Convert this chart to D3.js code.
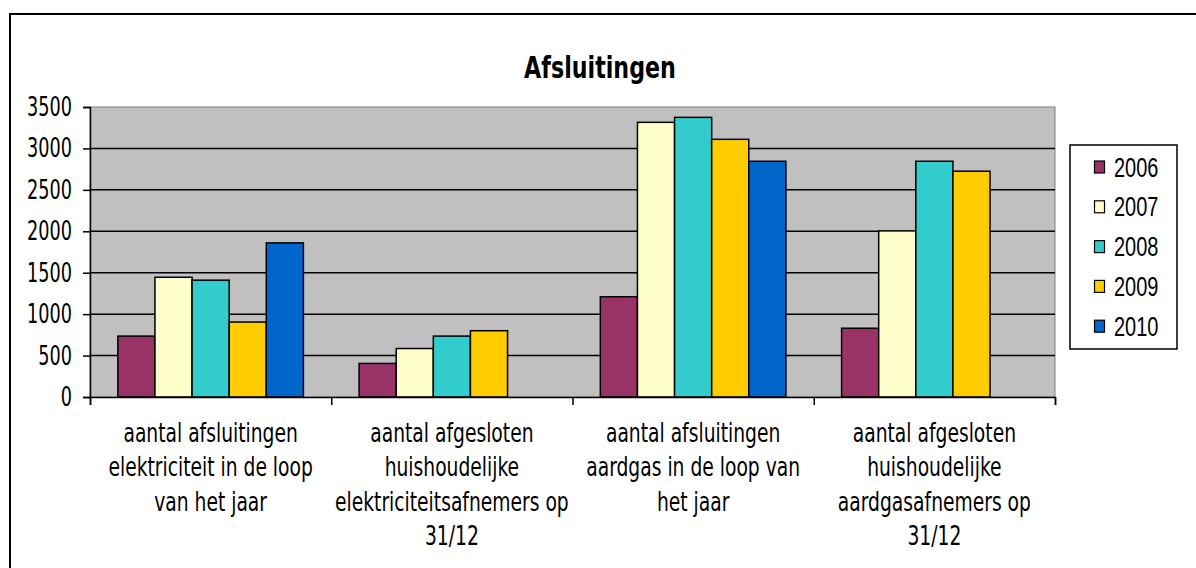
<!DOCTYPE html>
<html>
<head>
<meta charset="utf-8">
<script src="https://cdn.jsdelivr.net/npm/d3@7"></script>
<style>
  body { margin: 0; background: #fff; overflow: hidden; }
  svg { display: block; }
</style>
</head>
<body>
<svg id="chart" width="1196" height="568"></svg>
<script>
// --- data ---
const categories = [
    ["aantal afsluitingen", "elektriciteit in de loop", "van het jaar"],
    ["aantal afgesloten", "huishoudelijke", "elektriciteitsafnemers op", "31/12"],
    ["aantal afsluitingen", "aardgas in de loop van", "het jaar"],
    ["aantal afgesloten", "huishoudelijke", "aardgasafnemers op", "31/12"]
];
const years = ["2006", "2007", "2008", "2009", "2010"];
const s2006 = [735, 405, 1210, 830];
const s2007 = [1445, 585, 3315, 2005];
const s2008 = [1410, 735, 3375, 2845];
const s2009 = [905, 800, 3110, 2725];
const s2010 = [1860, null, 2845, null];
const yTicks = [0, 500, 1000, 1500, 2000, 2500, 3000, 3500];
const colors = ["#993366", "#FFFFCC", "#33CCCC", "#FFCC00", "#0066CC"];

const series = [s2006, s2007, s2008, s2009, s2010];
const SX = 0.68; // the picture is squeezed sideways
const font = "'DejaVu Sans', Verdana, sans-serif";

const svg = d3.select("#chart");
const plot = { left: 90, top: 107, right: 1055, bottom: 397 };

// outer frame (right and bottom edges fall outside the picture)
svg.append("rect").attr("x", 10).attr("y", 14).attr("width", 1400).attr("height", 700)
    .attr("fill", "#fff").attr("stroke", "#000").attr("stroke-width", 2);

const x0 = d3.scaleBand().domain(d3.range(categories.length)).range([plot.left, plot.right]);
const x1 = d3.scaleBand().domain(years).range([0, x0.bandwidth()]).paddingInner(0).paddingOuter(0.75);
const y = d3.scaleLinear().domain([0, 3500]).range([plot.bottom, plot.top]);

// plot area
svg.append("rect").attr("x", plot.left).attr("y", plot.top)
    .attr("width", plot.right - plot.left).attr("height", plot.bottom - plot.top)
    .attr("fill", "#c0c0c0").attr("stroke", "#808080").attr("stroke-width", 1);

// gridlines
svg.append("g").selectAll("line").data(yTicks.filter(d => d > 0 && d < 3500)).enter().append("line")
    .attr("x1", plot.left).attr("x2", plot.right)
    .attr("y1", d => y(d)).attr("y2", d => y(d))
    .attr("stroke", "#000").attr("stroke-width", 1.5);

// bars
const groups = svg.append("g").selectAll("g").data(categories).enter().append("g")
    .attr("transform", (d, i) => `translate(${x0(i)},0)`);
groups.selectAll("rect")
    .data((d, i) => years.map((yr, j) => ({ yr, j, v: series[j][i] })).filter(d => d.v != null))
    .enter().append("rect")
    .attr("x", d => x1(d.yr)).attr("width", x1.bandwidth())
    .attr("y", d => y(d.v)).attr("height", d => y(0) - y(d.v))
    .attr("fill", d => colors[d.j]).attr("stroke", "#000").attr("stroke-width", 1.5);

// y axis
const yAxis = svg.append("g").attr("transform", `translate(${plot.left},0)`)
    .call(d3.axisLeft(y).tickValues(yTicks).tickSize(7).tickFormat(""));
yAxis.select(".domain").attr("stroke", "#000").attr("stroke-width", 1.5);
yAxis.selectAll(".tick line").attr("stroke", "#000").attr("stroke-width", 1.5);
svg.append("g").selectAll("text").data(yTicks).enter().append("text")
    .attr("transform", d => `translate(72,${y(d) + 9}) scale(${SX},1)`)
    .attr("text-anchor", "end")
    .style("font-family", font).style("font-size", "26px")
    .text(d => d);

// x axis
const xAxis = svg.append("g").attr("transform", `translate(0,${plot.bottom})`)
    .call(d3.axisBottom(d3.scaleLinear().domain([0, 4]).range([plot.left, plot.right]))
        .tickValues([0, 1, 2, 3, 4]).tickSize(8).tickFormat(""));
xAxis.select(".domain").attr("stroke", "#000").attr("stroke-width", 1.5);
xAxis.selectAll(".tick line").attr("stroke", "#000").attr("stroke-width", 1.5);

// category labels
const labels = svg.append("g").selectAll("g").data(categories).enter().append("g")
    .attr("transform", (d, i) => `translate(${x0(i) + x0.bandwidth() / 2},0)`);
labels.selectAll("text").data(d => d).enter().append("text")
    .attr("transform", (d, k) => `translate(0,${442 + k * 34.3}) scale(0.72,1)`)
    .attr("text-anchor", "middle")
    .style("font-family", font).style("font-size", "26px")
    .text(d => d);

// title
svg.append("text").attr("transform", "translate(600,78) scale(0.74,1)")
    .attr("text-anchor", "middle")
    .style("font-family", font).style("font-size", "30px")
    .style("font-weight", "bold")
    .text("Afsluitingen");

// legend
const legend = svg.append("g");
legend.append("rect").attr("x", 1070).attr("y", 145).attr("width", 107).attr("height", 204)
    .attr("fill", "#fff").attr("stroke", "#000").attr("stroke-width", 1.5);
const items = legend.selectAll("g.item").data(years).enter().append("g")
    .attr("class", "item")
    .attr("transform", (d, i) => `translate(0,${167 + i * 39.8})`);
items.append("rect").attr("x", 1094.5).attr("y", -6).attr("width", 10).attr("height", 12)
    .attr("fill", (d, i) => colors[i]).attr("stroke", "#000").attr("stroke-width", 1.2);
items.append("text").attr("transform", `translate(1114,9.5) scale(0.74,1)`)
    .style("font-family", "'Liberation Sans', Arial, sans-serif").style("font-size", "27px")
    .text(d => d);
</script>
</body>
</html>
